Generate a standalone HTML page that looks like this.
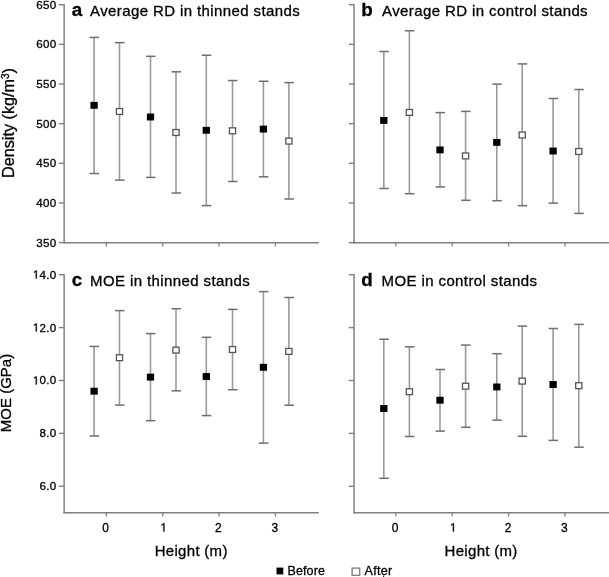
<!DOCTYPE html>
<html><head><meta charset="utf-8"><style>
html,body{margin:0;padding:0;background:#fff;}
body{width:609px;height:577px;overflow:hidden;}
svg{display:block;filter:grayscale(1);font-family:"Liberation Sans",sans-serif;}
text{fill:#000;stroke:#000;stroke-width:0.3px;}
.h1{fill:none;stroke:none;}
</style></head><body>
<svg width="609" height="577" viewBox="0 0 609 577">
<rect width="609" height="577" fill="#fff"/>
<line x1="64.15" y1="4.20" x2="64.15" y2="243.50" stroke="#808080" stroke-width="1.5"/>
<line x1="63.45" y1="242.80" x2="318.80" y2="242.80" stroke="#808080" stroke-width="1.5"/>
<line x1="58.85" y1="4.70" x2="64.15" y2="4.70" stroke="#808080" stroke-width="1.4"/>
<line x1="58.85" y1="44.35" x2="64.15" y2="44.35" stroke="#808080" stroke-width="1.4"/>
<line x1="58.85" y1="84.00" x2="64.15" y2="84.00" stroke="#808080" stroke-width="1.4"/>
<line x1="58.85" y1="123.65" x2="64.15" y2="123.65" stroke="#808080" stroke-width="1.4"/>
<line x1="58.85" y1="163.30" x2="64.15" y2="163.30" stroke="#808080" stroke-width="1.4"/>
<line x1="58.85" y1="202.95" x2="64.15" y2="202.95" stroke="#808080" stroke-width="1.4"/>
<line x1="58.85" y1="242.60" x2="64.15" y2="242.60" stroke="#808080" stroke-width="1.4"/>
<line x1="106.30" y1="242.80" x2="106.30" y2="246.40" stroke="#808080" stroke-width="1.3"/>
<line x1="162.70" y1="242.80" x2="162.70" y2="246.40" stroke="#808080" stroke-width="1.3"/>
<line x1="219.00" y1="242.80" x2="219.00" y2="246.40" stroke="#808080" stroke-width="1.3"/>
<line x1="275.40" y1="242.80" x2="275.40" y2="246.40" stroke="#808080" stroke-width="1.3"/>
<line x1="354.05" y1="4.20" x2="354.05" y2="243.50" stroke="#808080" stroke-width="1.5"/>
<line x1="353.35" y1="242.80" x2="609.00" y2="242.80" stroke="#808080" stroke-width="1.5"/>
<line x1="348.75" y1="4.70" x2="354.05" y2="4.70" stroke="#808080" stroke-width="1.4"/>
<line x1="348.75" y1="44.35" x2="354.05" y2="44.35" stroke="#808080" stroke-width="1.4"/>
<line x1="348.75" y1="84.00" x2="354.05" y2="84.00" stroke="#808080" stroke-width="1.4"/>
<line x1="348.75" y1="123.65" x2="354.05" y2="123.65" stroke="#808080" stroke-width="1.4"/>
<line x1="348.75" y1="163.30" x2="354.05" y2="163.30" stroke="#808080" stroke-width="1.4"/>
<line x1="348.75" y1="202.95" x2="354.05" y2="202.95" stroke="#808080" stroke-width="1.4"/>
<line x1="348.75" y1="242.60" x2="354.05" y2="242.60" stroke="#808080" stroke-width="1.4"/>
<line x1="395.80" y1="242.80" x2="395.80" y2="246.40" stroke="#808080" stroke-width="1.3"/>
<line x1="452.20" y1="242.80" x2="452.20" y2="246.40" stroke="#808080" stroke-width="1.3"/>
<line x1="508.60" y1="242.80" x2="508.60" y2="246.40" stroke="#808080" stroke-width="1.3"/>
<line x1="565.00" y1="242.80" x2="565.00" y2="246.40" stroke="#808080" stroke-width="1.3"/>
<line x1="64.15" y1="274.20" x2="64.15" y2="513.55" stroke="#808080" stroke-width="1.5"/>
<line x1="63.45" y1="512.85" x2="318.80" y2="512.85" stroke="#808080" stroke-width="1.5"/>
<line x1="58.85" y1="274.70" x2="64.15" y2="274.70" stroke="#808080" stroke-width="1.4"/>
<line x1="58.85" y1="327.60" x2="64.15" y2="327.60" stroke="#808080" stroke-width="1.4"/>
<line x1="58.85" y1="380.50" x2="64.15" y2="380.50" stroke="#808080" stroke-width="1.4"/>
<line x1="58.85" y1="433.40" x2="64.15" y2="433.40" stroke="#808080" stroke-width="1.4"/>
<line x1="58.85" y1="486.30" x2="64.15" y2="486.30" stroke="#808080" stroke-width="1.4"/>
<line x1="106.30" y1="512.85" x2="106.30" y2="516.45" stroke="#808080" stroke-width="1.3"/>
<line x1="162.70" y1="512.85" x2="162.70" y2="516.45" stroke="#808080" stroke-width="1.3"/>
<line x1="219.00" y1="512.85" x2="219.00" y2="516.45" stroke="#808080" stroke-width="1.3"/>
<line x1="275.40" y1="512.85" x2="275.40" y2="516.45" stroke="#808080" stroke-width="1.3"/>
<line x1="354.05" y1="274.20" x2="354.05" y2="513.55" stroke="#808080" stroke-width="1.5"/>
<line x1="353.35" y1="512.85" x2="609.00" y2="512.85" stroke="#808080" stroke-width="1.5"/>
<line x1="348.75" y1="274.70" x2="354.05" y2="274.70" stroke="#808080" stroke-width="1.4"/>
<line x1="348.75" y1="327.60" x2="354.05" y2="327.60" stroke="#808080" stroke-width="1.4"/>
<line x1="348.75" y1="380.50" x2="354.05" y2="380.50" stroke="#808080" stroke-width="1.4"/>
<line x1="348.75" y1="433.40" x2="354.05" y2="433.40" stroke="#808080" stroke-width="1.4"/>
<line x1="348.75" y1="486.30" x2="354.05" y2="486.30" stroke="#808080" stroke-width="1.4"/>
<line x1="395.80" y1="512.85" x2="395.80" y2="516.45" stroke="#808080" stroke-width="1.3"/>
<line x1="452.20" y1="512.85" x2="452.20" y2="516.45" stroke="#808080" stroke-width="1.3"/>
<line x1="508.60" y1="512.85" x2="508.60" y2="516.45" stroke="#808080" stroke-width="1.3"/>
<line x1="565.00" y1="512.85" x2="565.00" y2="516.45" stroke="#808080" stroke-width="1.3"/>
<line x1="94.10" y1="37.45" x2="94.10" y2="173.55" stroke="#9a9a9a" stroke-width="1.6"/>
<line x1="89.60" y1="37.45" x2="99.10" y2="37.45" stroke="#6e6e6e" stroke-width="1.5"/>
<line x1="89.60" y1="173.55" x2="99.10" y2="173.55" stroke="#6e6e6e" stroke-width="1.5"/>
<line x1="119.50" y1="42.65" x2="119.50" y2="180.10" stroke="#9a9a9a" stroke-width="1.6"/>
<line x1="115.00" y1="42.65" x2="124.50" y2="42.65" stroke="#6e6e6e" stroke-width="1.5"/>
<line x1="115.00" y1="180.10" x2="124.50" y2="180.10" stroke="#6e6e6e" stroke-width="1.5"/>
<line x1="150.50" y1="56.30" x2="150.50" y2="177.40" stroke="#9a9a9a" stroke-width="1.6"/>
<line x1="146.00" y1="56.30" x2="155.50" y2="56.30" stroke="#6e6e6e" stroke-width="1.5"/>
<line x1="146.00" y1="177.40" x2="155.50" y2="177.40" stroke="#6e6e6e" stroke-width="1.5"/>
<line x1="176.00" y1="71.80" x2="176.00" y2="193.00" stroke="#9a9a9a" stroke-width="1.6"/>
<line x1="171.50" y1="71.80" x2="181.00" y2="71.80" stroke="#6e6e6e" stroke-width="1.5"/>
<line x1="171.50" y1="193.00" x2="181.00" y2="193.00" stroke="#6e6e6e" stroke-width="1.5"/>
<line x1="206.30" y1="55.25" x2="206.30" y2="205.60" stroke="#9a9a9a" stroke-width="1.6"/>
<line x1="201.80" y1="55.25" x2="211.30" y2="55.25" stroke="#6e6e6e" stroke-width="1.5"/>
<line x1="201.80" y1="205.60" x2="211.30" y2="205.60" stroke="#6e6e6e" stroke-width="1.5"/>
<line x1="232.50" y1="80.55" x2="232.50" y2="181.50" stroke="#9a9a9a" stroke-width="1.6"/>
<line x1="228.00" y1="80.55" x2="237.50" y2="80.55" stroke="#6e6e6e" stroke-width="1.5"/>
<line x1="228.00" y1="181.50" x2="237.50" y2="181.50" stroke="#6e6e6e" stroke-width="1.5"/>
<line x1="263.40" y1="81.25" x2="263.40" y2="176.80" stroke="#9a9a9a" stroke-width="1.6"/>
<line x1="258.90" y1="81.25" x2="268.40" y2="81.25" stroke="#6e6e6e" stroke-width="1.5"/>
<line x1="258.90" y1="176.80" x2="268.40" y2="176.80" stroke="#6e6e6e" stroke-width="1.5"/>
<line x1="288.90" y1="82.60" x2="288.90" y2="199.00" stroke="#9a9a9a" stroke-width="1.6"/>
<line x1="284.40" y1="82.60" x2="293.90" y2="82.60" stroke="#6e6e6e" stroke-width="1.5"/>
<line x1="284.40" y1="199.00" x2="293.90" y2="199.00" stroke="#6e6e6e" stroke-width="1.5"/>
<line x1="383.80" y1="51.50" x2="383.80" y2="188.50" stroke="#9a9a9a" stroke-width="1.6"/>
<line x1="379.30" y1="51.50" x2="388.80" y2="51.50" stroke="#6e6e6e" stroke-width="1.5"/>
<line x1="379.30" y1="188.50" x2="388.80" y2="188.50" stroke="#6e6e6e" stroke-width="1.5"/>
<line x1="409.40" y1="30.75" x2="409.40" y2="193.70" stroke="#9a9a9a" stroke-width="1.6"/>
<line x1="404.90" y1="30.75" x2="414.40" y2="30.75" stroke="#6e6e6e" stroke-width="1.5"/>
<line x1="404.90" y1="193.70" x2="414.40" y2="193.70" stroke="#6e6e6e" stroke-width="1.5"/>
<line x1="440.00" y1="112.60" x2="440.00" y2="186.95" stroke="#9a9a9a" stroke-width="1.6"/>
<line x1="435.50" y1="112.60" x2="445.00" y2="112.60" stroke="#6e6e6e" stroke-width="1.5"/>
<line x1="435.50" y1="186.95" x2="445.00" y2="186.95" stroke="#6e6e6e" stroke-width="1.5"/>
<line x1="465.60" y1="111.40" x2="465.60" y2="200.30" stroke="#9a9a9a" stroke-width="1.6"/>
<line x1="461.10" y1="111.40" x2="470.60" y2="111.40" stroke="#6e6e6e" stroke-width="1.5"/>
<line x1="461.10" y1="200.30" x2="470.60" y2="200.30" stroke="#6e6e6e" stroke-width="1.5"/>
<line x1="496.80" y1="84.10" x2="496.80" y2="200.70" stroke="#9a9a9a" stroke-width="1.6"/>
<line x1="492.30" y1="84.10" x2="501.80" y2="84.10" stroke="#6e6e6e" stroke-width="1.5"/>
<line x1="492.30" y1="200.70" x2="501.80" y2="200.70" stroke="#6e6e6e" stroke-width="1.5"/>
<line x1="522.20" y1="63.90" x2="522.20" y2="205.70" stroke="#9a9a9a" stroke-width="1.6"/>
<line x1="517.70" y1="63.90" x2="527.20" y2="63.90" stroke="#6e6e6e" stroke-width="1.5"/>
<line x1="517.70" y1="205.70" x2="527.20" y2="205.70" stroke="#6e6e6e" stroke-width="1.5"/>
<line x1="553.10" y1="98.50" x2="553.10" y2="203.10" stroke="#9a9a9a" stroke-width="1.6"/>
<line x1="548.60" y1="98.50" x2="558.10" y2="98.50" stroke="#6e6e6e" stroke-width="1.5"/>
<line x1="548.60" y1="203.10" x2="558.10" y2="203.10" stroke="#6e6e6e" stroke-width="1.5"/>
<line x1="578.80" y1="89.50" x2="578.80" y2="213.40" stroke="#9a9a9a" stroke-width="1.6"/>
<line x1="574.30" y1="89.50" x2="583.80" y2="89.50" stroke="#6e6e6e" stroke-width="1.5"/>
<line x1="574.30" y1="213.40" x2="583.80" y2="213.40" stroke="#6e6e6e" stroke-width="1.5"/>
<line x1="94.10" y1="346.45" x2="94.10" y2="436.00" stroke="#9a9a9a" stroke-width="1.6"/>
<line x1="89.60" y1="346.45" x2="99.10" y2="346.45" stroke="#6e6e6e" stroke-width="1.5"/>
<line x1="89.60" y1="436.00" x2="99.10" y2="436.00" stroke="#6e6e6e" stroke-width="1.5"/>
<line x1="119.50" y1="310.60" x2="119.50" y2="405.10" stroke="#9a9a9a" stroke-width="1.6"/>
<line x1="115.00" y1="310.60" x2="124.50" y2="310.60" stroke="#6e6e6e" stroke-width="1.5"/>
<line x1="115.00" y1="405.10" x2="124.50" y2="405.10" stroke="#6e6e6e" stroke-width="1.5"/>
<line x1="150.50" y1="333.60" x2="150.50" y2="420.70" stroke="#9a9a9a" stroke-width="1.6"/>
<line x1="146.00" y1="333.60" x2="155.50" y2="333.60" stroke="#6e6e6e" stroke-width="1.5"/>
<line x1="146.00" y1="420.70" x2="155.50" y2="420.70" stroke="#6e6e6e" stroke-width="1.5"/>
<line x1="176.00" y1="308.70" x2="176.00" y2="390.80" stroke="#9a9a9a" stroke-width="1.6"/>
<line x1="171.50" y1="308.70" x2="181.00" y2="308.70" stroke="#6e6e6e" stroke-width="1.5"/>
<line x1="171.50" y1="390.80" x2="181.00" y2="390.80" stroke="#6e6e6e" stroke-width="1.5"/>
<line x1="206.30" y1="337.30" x2="206.30" y2="415.60" stroke="#9a9a9a" stroke-width="1.6"/>
<line x1="201.80" y1="337.30" x2="211.30" y2="337.30" stroke="#6e6e6e" stroke-width="1.5"/>
<line x1="201.80" y1="415.60" x2="211.30" y2="415.60" stroke="#6e6e6e" stroke-width="1.5"/>
<line x1="232.50" y1="309.40" x2="232.50" y2="389.75" stroke="#9a9a9a" stroke-width="1.6"/>
<line x1="228.00" y1="309.40" x2="237.50" y2="309.40" stroke="#6e6e6e" stroke-width="1.5"/>
<line x1="228.00" y1="389.75" x2="237.50" y2="389.75" stroke="#6e6e6e" stroke-width="1.5"/>
<line x1="263.40" y1="291.60" x2="263.40" y2="443.10" stroke="#9a9a9a" stroke-width="1.6"/>
<line x1="258.90" y1="291.60" x2="268.40" y2="291.60" stroke="#6e6e6e" stroke-width="1.5"/>
<line x1="258.90" y1="443.10" x2="268.40" y2="443.10" stroke="#6e6e6e" stroke-width="1.5"/>
<line x1="288.90" y1="297.50" x2="288.90" y2="405.20" stroke="#9a9a9a" stroke-width="1.6"/>
<line x1="284.40" y1="297.50" x2="293.90" y2="297.50" stroke="#6e6e6e" stroke-width="1.5"/>
<line x1="284.40" y1="405.20" x2="293.90" y2="405.20" stroke="#6e6e6e" stroke-width="1.5"/>
<line x1="383.80" y1="339.20" x2="383.80" y2="478.30" stroke="#9a9a9a" stroke-width="1.6"/>
<line x1="379.30" y1="339.20" x2="388.80" y2="339.20" stroke="#6e6e6e" stroke-width="1.5"/>
<line x1="379.30" y1="478.30" x2="388.80" y2="478.30" stroke="#6e6e6e" stroke-width="1.5"/>
<line x1="409.40" y1="346.80" x2="409.40" y2="436.50" stroke="#9a9a9a" stroke-width="1.6"/>
<line x1="404.90" y1="346.80" x2="414.40" y2="346.80" stroke="#6e6e6e" stroke-width="1.5"/>
<line x1="404.90" y1="436.50" x2="414.40" y2="436.50" stroke="#6e6e6e" stroke-width="1.5"/>
<line x1="440.00" y1="369.50" x2="440.00" y2="431.10" stroke="#9a9a9a" stroke-width="1.6"/>
<line x1="435.50" y1="369.50" x2="445.00" y2="369.50" stroke="#6e6e6e" stroke-width="1.5"/>
<line x1="435.50" y1="431.10" x2="445.00" y2="431.10" stroke="#6e6e6e" stroke-width="1.5"/>
<line x1="465.60" y1="345.10" x2="465.60" y2="427.30" stroke="#9a9a9a" stroke-width="1.6"/>
<line x1="461.10" y1="345.10" x2="470.60" y2="345.10" stroke="#6e6e6e" stroke-width="1.5"/>
<line x1="461.10" y1="427.30" x2="470.60" y2="427.30" stroke="#6e6e6e" stroke-width="1.5"/>
<line x1="496.80" y1="353.70" x2="496.80" y2="420.15" stroke="#9a9a9a" stroke-width="1.6"/>
<line x1="492.30" y1="353.70" x2="501.80" y2="353.70" stroke="#6e6e6e" stroke-width="1.5"/>
<line x1="492.30" y1="420.15" x2="501.80" y2="420.15" stroke="#6e6e6e" stroke-width="1.5"/>
<line x1="522.20" y1="326.10" x2="522.20" y2="436.30" stroke="#9a9a9a" stroke-width="1.6"/>
<line x1="517.70" y1="326.10" x2="527.20" y2="326.10" stroke="#6e6e6e" stroke-width="1.5"/>
<line x1="517.70" y1="436.30" x2="527.20" y2="436.30" stroke="#6e6e6e" stroke-width="1.5"/>
<line x1="553.10" y1="328.50" x2="553.10" y2="440.40" stroke="#9a9a9a" stroke-width="1.6"/>
<line x1="548.60" y1="328.50" x2="558.10" y2="328.50" stroke="#6e6e6e" stroke-width="1.5"/>
<line x1="548.60" y1="440.40" x2="558.10" y2="440.40" stroke="#6e6e6e" stroke-width="1.5"/>
<line x1="578.80" y1="324.40" x2="578.80" y2="447.20" stroke="#9a9a9a" stroke-width="1.6"/>
<line x1="574.30" y1="324.40" x2="583.80" y2="324.40" stroke="#6e6e6e" stroke-width="1.5"/>
<line x1="574.30" y1="447.20" x2="583.80" y2="447.20" stroke="#6e6e6e" stroke-width="1.5"/>
<rect x="90.45" y="101.85" width="7.3" height="6.9" fill="#000"/>
<rect x="116.40" y="108.55" width="6.2" height="5.9" fill="#fff" stroke="#555" stroke-width="1.3"/>
<rect x="146.85" y="113.55" width="7.3" height="6.9" fill="#000"/>
<rect x="172.90" y="129.55" width="6.2" height="5.9" fill="#fff" stroke="#555" stroke-width="1.3"/>
<rect x="202.65" y="126.85" width="7.3" height="6.9" fill="#000"/>
<rect x="229.40" y="127.85" width="6.2" height="5.9" fill="#fff" stroke="#555" stroke-width="1.3"/>
<rect x="259.75" y="125.65" width="7.3" height="6.9" fill="#000"/>
<rect x="285.80" y="138.15" width="6.2" height="5.9" fill="#fff" stroke="#555" stroke-width="1.3"/>
<rect x="380.15" y="116.95" width="7.3" height="6.9" fill="#000"/>
<rect x="406.30" y="109.45" width="6.2" height="5.9" fill="#fff" stroke="#555" stroke-width="1.3"/>
<rect x="436.35" y="146.45" width="7.3" height="6.9" fill="#000"/>
<rect x="462.50" y="152.95" width="6.2" height="5.9" fill="#fff" stroke="#555" stroke-width="1.3"/>
<rect x="493.15" y="138.95" width="7.3" height="6.9" fill="#000"/>
<rect x="519.10" y="132.05" width="6.2" height="5.9" fill="#fff" stroke="#555" stroke-width="1.3"/>
<rect x="549.45" y="147.55" width="7.3" height="6.9" fill="#000"/>
<rect x="575.70" y="148.55" width="6.2" height="5.9" fill="#fff" stroke="#555" stroke-width="1.3"/>
<rect x="90.45" y="387.75" width="7.3" height="6.9" fill="#000"/>
<rect x="116.40" y="354.75" width="6.2" height="5.9" fill="#fff" stroke="#555" stroke-width="1.3"/>
<rect x="146.85" y="373.65" width="7.3" height="6.9" fill="#000"/>
<rect x="172.90" y="347.15" width="6.2" height="5.9" fill="#fff" stroke="#555" stroke-width="1.3"/>
<rect x="202.65" y="373.05" width="7.3" height="6.9" fill="#000"/>
<rect x="229.40" y="346.55" width="6.2" height="5.9" fill="#fff" stroke="#555" stroke-width="1.3"/>
<rect x="259.75" y="363.85" width="7.3" height="6.9" fill="#000"/>
<rect x="285.80" y="348.45" width="6.2" height="5.9" fill="#fff" stroke="#555" stroke-width="1.3"/>
<rect x="380.15" y="405.05" width="7.3" height="6.9" fill="#000"/>
<rect x="406.30" y="388.75" width="6.2" height="5.9" fill="#fff" stroke="#555" stroke-width="1.3"/>
<rect x="436.35" y="396.75" width="7.3" height="6.9" fill="#000"/>
<rect x="462.50" y="383.25" width="6.2" height="5.9" fill="#fff" stroke="#555" stroke-width="1.3"/>
<rect x="493.15" y="383.50" width="7.3" height="6.9" fill="#000"/>
<rect x="519.10" y="378.15" width="6.2" height="5.9" fill="#fff" stroke="#555" stroke-width="1.3"/>
<rect x="549.45" y="381.05" width="7.3" height="6.9" fill="#000"/>
<rect x="575.70" y="382.75" width="6.2" height="5.9" fill="#fff" stroke="#555" stroke-width="1.3"/>
<text x="56.6" y="8.6" text-anchor="end" style="font-size:11.6px;letter-spacing:0.3px;">650</text>
<text x="56.6" y="48.25" text-anchor="end" style="font-size:11.6px;letter-spacing:0.3px;">600</text>
<text x="56.6" y="87.9" text-anchor="end" style="font-size:11.6px;letter-spacing:0.3px;">550</text>
<text x="56.6" y="127.55" text-anchor="end" style="font-size:11.6px;letter-spacing:0.3px;">500</text>
<text x="56.6" y="167.2" text-anchor="end" style="font-size:11.6px;letter-spacing:0.3px;">450</text>
<text x="56.6" y="206.85" text-anchor="end" style="font-size:11.6px;letter-spacing:0.3px;">400</text>
<text x="56.6" y="246.5" text-anchor="end" style="font-size:11.6px;letter-spacing:0.3px;">350</text>
<text x="56.6" y="278.6" text-anchor="end" style="font-size:11.6px;letter-spacing:0.3px;"><tspan class="h1">1</tspan>4.0</text>
<text x="56.6" y="331.5" text-anchor="end" style="font-size:11.6px;letter-spacing:0.3px;"><tspan class="h1">1</tspan>2.0</text>
<text x="56.6" y="384.4" text-anchor="end" style="font-size:11.6px;letter-spacing:0.3px;"><tspan class="h1">1</tspan>0.0</text>
<text x="56.6" y="437.3" text-anchor="end" style="font-size:11.6px;letter-spacing:0.3px;">8.0</text>
<text x="56.6" y="490.2" text-anchor="end" style="font-size:11.6px;letter-spacing:0.3px;">6.0</text>
<text x="105.7" y="531.6" text-anchor="middle" style="font-size:12px;">0</text>
<text x="162.1" y="531.6" text-anchor="middle" style="font-size:12px;"><tspan class="h1">1</tspan></text>
<text x="218.4" y="531.6" text-anchor="middle" style="font-size:12px;">2</text>
<text x="274.79999999999995" y="531.6" text-anchor="middle" style="font-size:12px;">3</text>
<text x="395.2" y="531.6" text-anchor="middle" style="font-size:12px;">0</text>
<text x="451.59999999999997" y="531.6" text-anchor="middle" style="font-size:12px;"><tspan class="h1">1</tspan></text>
<text x="508.0" y="531.6" text-anchor="middle" style="font-size:12px;">2</text>
<text x="564.4" y="531.6" text-anchor="middle" style="font-size:12px;">3</text>
<text x="71.8" y="15.6" text-anchor="start" style="font-size:18.8px;font-weight:bold;">a</text>
<text x="90.0" y="15.8" text-anchor="start" style="font-size:15px;letter-spacing:0.4px;">Average RD in thinned stands</text>
<text x="361.3" y="15.6" text-anchor="start" style="font-size:18.8px;font-weight:bold;">b</text>
<text x="382.0" y="15.8" text-anchor="start" style="font-size:15px;letter-spacing:0.4px;">Average RD in control stands</text>
<text x="71.8" y="285.9" text-anchor="start" style="font-size:18.8px;font-weight:bold;">c</text>
<text x="90.0" y="285.9" text-anchor="start" style="font-size:15px;letter-spacing:0.4px;">MOE in thinned stands</text>
<text x="361.3" y="285.9" text-anchor="start" style="font-size:18.8px;font-weight:bold;">d</text>
<text x="381.5" y="285.9" text-anchor="start" style="font-size:15px;letter-spacing:0.4px;">MOE in control stands</text>
<text x="191.2" y="556.3" text-anchor="middle" style="font-size:15px;letter-spacing:0.3px;">Height (m)</text>
<text x="481.1" y="556.3" text-anchor="middle" style="font-size:15px;letter-spacing:0.3px;">Height (m)</text>
<text x="14.1" y="123.0" text-anchor="middle" style="font-size:16.2px;" transform="rotate(-90 14.1 123.0)">Density (kg/m<tspan dy="-5" style="font-size:10px">3</tspan><tspan dy="5">)</tspan></text>
<text x="11.3" y="393.0" text-anchor="middle" style="font-size:15px;" transform="rotate(-90 11.3 393.0)">MOE (GPa)</text>
<rect x="276.5" y="567.6" width="6.8" height="6.8" fill="#000"/>
<text x="287.5" y="574.9" text-anchor="start" style="font-size:12.5px;letter-spacing:0.12px;">Before</text>
<rect x="352.1" y="568.1" width="7.6" height="7.2" fill="#fff" stroke="#7a7a7a" stroke-width="1.3"/>
<text x="364.6" y="575.1" text-anchor="start" style="font-size:12.5px;letter-spacing:0.3px;">After</text>
<line x1="383.60" y1="575.40" x2="383.60" y2="577.00" stroke="#222" stroke-width="1.1"/>
<path d="M515 0L515 1237L197 1010L197 1180L530 1409L696 1409L696 0Z" transform="translate(32.82 278.60) scale(0.005664 -0.005664)" fill="#000" stroke="#000" stroke-width="53.0"/>
<path d="M515 0L515 1237L197 1010L197 1180L530 1409L696 1409L696 0Z" transform="translate(32.82 331.50) scale(0.005664 -0.005664)" fill="#000" stroke="#000" stroke-width="53.0"/>
<path d="M515 0L515 1237L197 1010L197 1180L530 1409L696 1409L696 0Z" transform="translate(32.82 384.40) scale(0.005664 -0.005664)" fill="#000" stroke="#000" stroke-width="53.0"/>
<path d="M515 0L515 1237L197 1010L197 1180L530 1409L696 1409L696 0Z" transform="translate(160.36 531.60) scale(0.005859 -0.005859)" fill="#000" stroke="#000" stroke-width="51.2"/>
<path d="M515 0L515 1237L197 1010L197 1180L530 1409L696 1409L696 0Z" transform="translate(449.86 531.60) scale(0.005859 -0.005859)" fill="#000" stroke="#000" stroke-width="51.2"/>
</svg>
</body></html>
